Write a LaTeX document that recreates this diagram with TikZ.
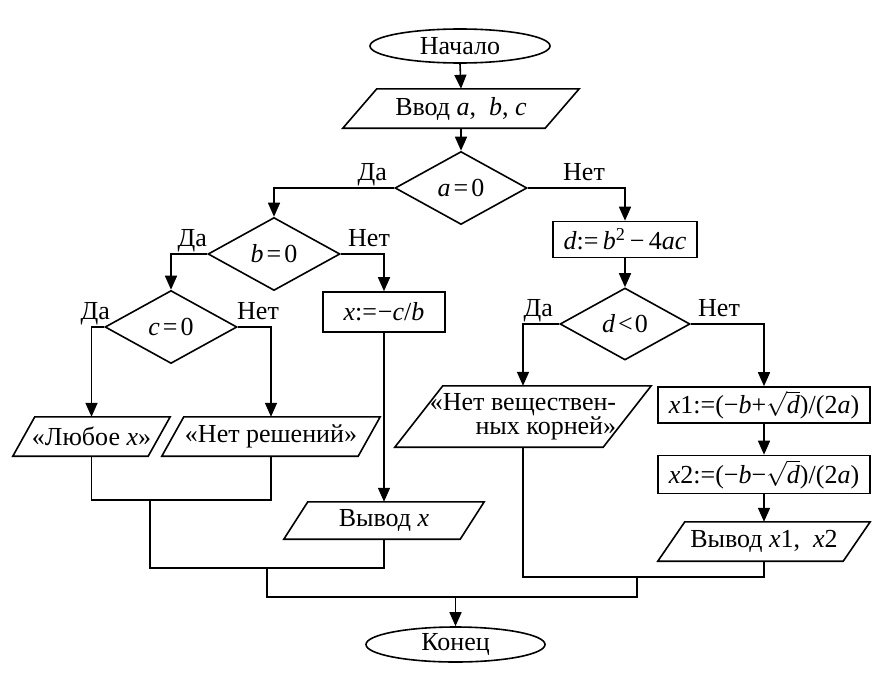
\documentclass[tikz,border=0pt]{standalone}
\usepackage{fontspec}
\setmainfont{Liberation Serif}
\usetikzlibrary{shapes.geometric,arrows.meta,calc}
\tikzset{
 ln/.style={line width=1.6pt},
 arr/.style={ln,-{Triangle[length=14pt,width=12pt]}},
 term/.style={ellipse,draw,ln,inner sep=0pt,minimum width=180pt,minimum height=34pt},
 proc/.style={rectangle,draw,ln,inner sep=0pt},
 dec/.style={diamond,draw,ln,inner sep=0pt,minimum width=132pt,minimum height=73pt},
 iot/.style={rectangle,inner sep=0pt,align=center},
 lbl/.style={inner sep=0pt},
 every node/.style={font=\fontsize{26}{28}\selectfont},
}
\newcommand\iv[1]{\textit{#1}}
\newcommand\pgram[7]{%
  \node[iot, minimum width=#4pt, minimum height=#5pt] (#1) at (#2,#3) {#7};
  \draw[ln] ([xshift=#6pt/2]#1.north west) -- ([xshift=#6pt/2]#1.north east)
     -- ([xshift=-#6pt/2]#1.south east) -- ([xshift=-#6pt/2]#1.south west) -- cycle;
}
\begin{document}
\begin{tikzpicture}[x=1pt,y=-1pt]
\useasboundingbox (0,0) rectangle (882,693);
% nodes
\node[term] (start) at (460,46) {Начало};
\pgram{in}{461}{108.5}{202}{39}{34}{Ввод \iv{a}, \ \iv{b}, \iv{c}}
\node[dec] (a0) at (461,188) {\iv{a}\kern3pt=\kern3pt0};
\node[dec] (b0) at (274,254) {\iv{b}\kern3pt=\kern3pt0};
\node[dec] (c0) at (171,327) {\iv{c}\kern3pt=\kern3pt0};
\node[proc, minimum width=122pt, minimum height=40pt] (xb) at (384,312) {\iv{x}:=\kern1pt−\iv{c}/\iv{b}};
\pgram{lx}{91.5}{436.5}{135}{39}{22}{«Любое \iv{x}»}
\pgram{nr}{271}{436.5}{196}{39}{22}{«Нет решений»}
\pgram{vx}{384}{520.5}{176}{37}{24}{Вывод \iv{x}}
\node[proc, minimum width=144pt, minimum height=36pt] (dd) at (625,239.5) {\iv{d}:=\,\iv{b}\textsuperscript{2}\,−\,4\iv{ac}};
\node[dec, minimum width=130pt, minimum height=72pt] (d0) at (625,324) {\iv{d}\kern3pt<\kern2pt0};
\pgram{nv}{523}{416.5}{208}{61}{48}{\begin{tabular}{@{}r@{}}«Нет веществен-\\[-4pt]ных корней»\end{tabular}}
\node[proc, minimum width=212pt, minimum height=36pt] (x1) at (764,405) {\iv{x}1:=(−\iv{b}+$\sqrt{\mbox{\itshape d}}$)/(2\iv{a})};
\node[proc, minimum width=212pt, minimum height=38pt] (x2) at (764,474.5) {\iv{x}2:=(−\iv{b}−$\sqrt{\mbox{\itshape d}}$)/(2\iv{a})};
\pgram{vo}{764}{541.5}{185}{39}{27}{Вывод \iv{x}1, \ \iv{x}2}
\node[term, minimum width=179pt, minimum height=35pt] (end) at (455.5,644.5) {Конец};
% labels
\node[lbl, anchor=base east] (la1) at (387,180) {Да};
\node[lbl, anchor=base west] (la2) at (563,180) {Нет};
\node[lbl, anchor=base east] (lb1) at (207,246) {Да};
\node[lbl, anchor=base west] (lb2) at (348,246) {Нет};
\node[lbl, anchor=base east] (lc1) at (110,319) {Да};
\node[lbl, anchor=base west] (lc2) at (237,319) {Нет};
\node[lbl, anchor=base east] (ld1) at (553,316) {Да};
\node[lbl, anchor=base west] (ld2) at (698,316) {Нет};
% connectors
\draw[arr] (start.south) -- (in.north);
\draw[arr] (in.south) -- (a0.north);
\draw[arr] (a0.west) -| (b0.north);
\draw[arr] (a0.east) -| (dd.north);
\draw[arr] (dd.south) -- (d0.north);
\draw[arr] (b0.west) -| (c0.north);
\draw[arr] (b0.east) -| (xb.north);
\draw[arr] (c0.west) -| (lx.north);
\draw[arr] (c0.east) -| (nr.north);
\draw[arr] (xb.south) -- (vx.north);
\draw[arr] (d0.west) -| (nv.north);
\draw[arr] (d0.east) -| (x1.north);
\draw[arr] (x1.south) -- (x2.north);
\draw[arr] (x2.south) -- (vo.north);
% merges
\coordinate (m1) at (150,500);
\coordinate (m2) at (267,568);
\coordinate (m3) at (455.5,597);
\coordinate (m4) at (637,577);
\draw[ln] (lx.south) |- (m1);
\draw[ln] (nr.south) |- (m1);
\draw[ln] (m1) |- (m2);
\draw[ln] (vx.south) |- (m2);
\draw[ln] (m2) |- (m3);
\draw[ln] (nv.south) |- (m4);
\draw[ln] (vo.south) |- (m4);
\draw[ln] (m4) |- (m3);
\draw[arr] (m3) -- (end.north);
\end{tikzpicture}
\end{document}
